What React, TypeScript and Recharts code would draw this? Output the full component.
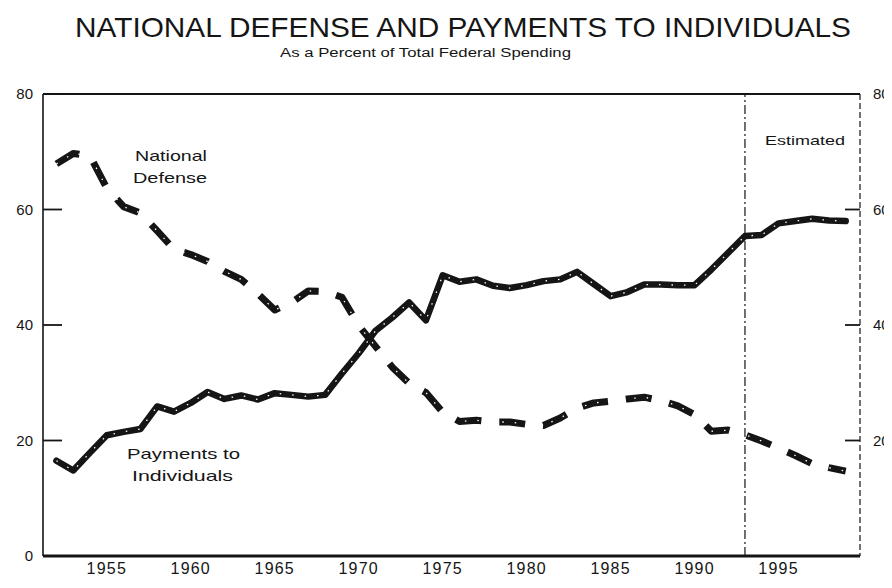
import React from 'react';
import { LineChart, Line, XAxis, YAxis, ReferenceLine } from 'recharts';

const YEARS = [
  1952, 1953, 1954, 1955, 1956, 1957, 1958, 1959, 1960, 1961,
  1962, 1963, 1964, 1965, 1966, 1967, 1968, 1969, 1970, 1971,
  1972, 1973, 1974, 1975, 1976, 1977, 1978, 1979, 1980, 1981,
  1982, 1983, 1984, 1985, 1986, 1987, 1988, 1989, 1990, 1991,
  1992, 1993, 1994, 1995, 1996, 1997, 1998, 1999,
];

// percent of total federal spending
const DEFENSE = [
  67.9, 69.7, 69.3, 63.7, 60.5, 59.4, 56.3, 53.1, 52.2, 51.0,
  49.3, 47.9, 45.4, 42.6, 43.9, 45.9, 45.8, 44.8, 39.9, 36.3,
  32.7, 29.9, 28.3, 24.9, 23.3, 23.5, 23.2, 23.2, 22.8, 22.6,
  23.9, 25.6, 26.5, 26.8, 27.2, 27.5, 26.9, 26.0, 24.5, 21.6,
  21.8, 21.0, 19.9, 18.7, 17.4, 16.0, 15.3, 14.7,
];

const PAYMENTS = [
  16.5, 14.8, 17.9, 20.9, 21.5, 22.0, 25.9, 25.0, 26.5, 28.4,
  27.2, 27.8, 27.1, 28.2, 27.9, 27.6, 27.9, 31.6, 35.1, 39.0,
  41.3, 43.9, 40.8, 48.6, 47.5, 47.9, 46.8, 46.4, 46.9, 47.6,
  47.9, 49.2, 47.1, 45.0, 45.7, 47.0, 47.0, 46.9, 46.9, 49.6,
  52.5, 55.4, 55.6, 57.6, 58.0, 58.4, 58.1, 58.0,
];

const YEAR_TICKS = [1955, 1960, 1965, 1970, 1975, 1980, 1985, 1990, 1995];
const PCT_TICKS = [0, 20, 40, 60, 80];
const RIGHT_TICKS = [20, 40, 60, 80];
const ESTIMATES_FROM = 1993;

const FONT = '"Liberation Sans", Arial, Helvetica, sans-serif';
const INK = '#151515';

const rows = YEARS.map((year, i) => ({
  year,
  defense: DEFENSE[i],
  payments: PAYMENTS[i],
}));

const tickText = { fontSize: 15, fill: INK, fontFamily: FONT };

export default function App() {
  return (
    <div style={{ position: 'relative', width: 892, height: 588, margin: -8, overflow: 'hidden', background: '#fff' }}>
      <LineChart width={900} height={588} data={rows} margin={{ top: 94, right: 0, bottom: 0, left: 0 }}>
        <XAxis
          dataKey="year"
          type="number"
          domain={[1951.2, 1999.85]}
          ticks={YEAR_TICKS}
          height={32}
          axisLine={{ stroke: INK, strokeWidth: 3 }}
          tickLine={false}
          tickSize={0}
          tickMargin={7}
          tick={{ ...tickText, fontSize: 16, letterSpacing: 1.2 }}
        />
        {/* negative tickSize turns the tick marks inward, as in the print */}
        <YAxis
          yAxisId="left"
          domain={[0, 80]}
          ticks={PCT_TICKS}
          width={43}
          axisLine={{ stroke: INK, strokeWidth: 1.6 }}
          tickLine={{ stroke: INK, strokeWidth: 1.8 }}
          tickSize={-19}
          tickMargin={29}
          tick={tickText}
        />
        <YAxis
          yAxisId="right"
          orientation="right"
          domain={[0, 80]}
          ticks={RIGHT_TICKS}
          width={40}
          axisLine={{ stroke: INK, strokeWidth: 1.2, strokeDasharray: '6 3' }}
          tickLine={{ stroke: INK, strokeWidth: 1.8 }}
          tickSize={-15}
          tickMargin={28}
          tick={tickText}
        />
        <ReferenceLine yAxisId="left" y={80} stroke={INK} strokeWidth={2.2} />
        <ReferenceLine
          yAxisId="left"
          x={ESTIMATES_FROM}
          stroke={INK}
          strokeWidth={1.2}
          strokeDasharray="9 3 2 3"
        />
        <Line
          yAxisId="left"
          type="linear"
          dataKey="defense"
          stroke={INK}
          strokeWidth={7}
          strokeDasharray="26 18"
          strokeLinejoin="round"
          dot={false}
          activeDot={false}
          isAnimationActive={false}
        />
        <Line
          yAxisId="left"
          type="linear"
          dataKey="payments"
          stroke={INK}
          strokeWidth={6.5}
          strokeLinejoin="round"
          strokeLinecap="round"
          dot={false}
          activeDot={false}
          isAnimationActive={false}
        />
        {/* thin white speckle down the middle of the printed lines; drawn on the
            right-hand axis (same 0-80 scale) so that axis gets its ticks */}
        <Line
          yAxisId="right"
          type="linear"
          dataKey="payments"
          stroke="#fff"
          strokeWidth={1.3}
          strokeDasharray="1.5 11"
          dot={false}
          activeDot={false}
          legendType="none"
          isAnimationActive={false}
        />
        <Line
          yAxisId="right"
          type="linear"
          dataKey="defense"
          stroke="#fff"
          strokeWidth={1.3}
          strokeDasharray="1.5 11"
          dot={false}
          activeDot={false}
          legendType="none"
          isAnimationActive={false}
        />
      </LineChart>

      <svg
        width={892}
        height={588}
        style={{ position: 'absolute', left: 0, top: 0, pointerEvents: 'none' }}
        fontFamily={FONT}
        fill={INK}
      >
        <text x={75} y={37} fontSize={28} textLength={776} lengthAdjust="spacingAndGlyphs">
          NATIONAL DEFENSE AND PAYMENTS TO INDIVIDUALS
        </text>
        <text x={280} y={57} fontSize={12.5} textLength={291} lengthAdjust="spacingAndGlyphs">
          As a Percent of Total Federal Spending
        </text>
        <text x={135} y={161} fontSize={15} textLength={72} lengthAdjust="spacingAndGlyphs">National</text>
        <text x={133} y={183} fontSize={15} textLength={74} lengthAdjust="spacingAndGlyphs">Defense</text>
        <text x={127} y={459} fontSize={15} textLength={113} lengthAdjust="spacingAndGlyphs">Payments to</text>
        <text x={132} y={481} fontSize={15} textLength={101} lengthAdjust="spacingAndGlyphs">Individuals</text>
        <text x={765} y={145} fontSize={13} textLength={80} lengthAdjust="spacingAndGlyphs">Estimated</text>
      </svg>
    </div>
  );
}
